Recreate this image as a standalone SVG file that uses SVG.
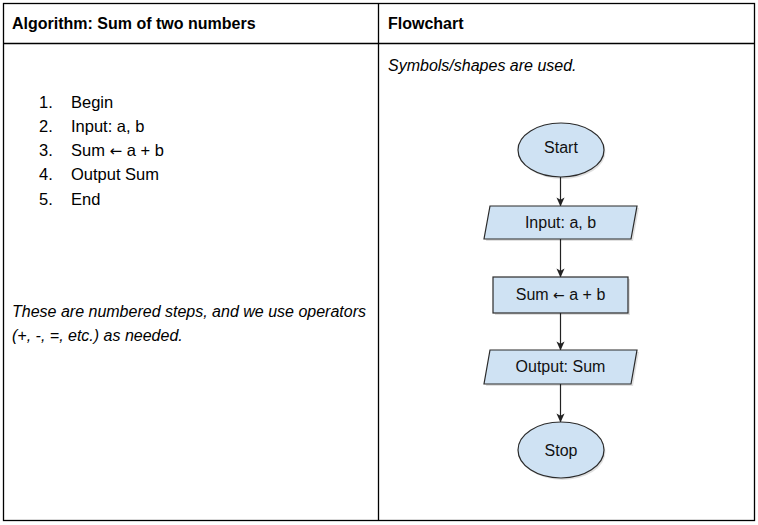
<svg xmlns="http://www.w3.org/2000/svg" width="758" height="525" viewBox="0 0 758 525">
<style>
.grid{stroke:#000;stroke-width:1.3;fill:none}
.hdr{font-family:"Liberation Sans",Arial,sans-serif;font-weight:bold;font-size:16px;fill:#000}
.it{font-family:"Liberation Sans",Arial,sans-serif;font-style:italic;font-size:16px;fill:#000}
.lst{font-family:"Liberation Sans",Arial,sans-serif;font-size:16.5px;fill:#000}
.arr{font-family:"DejaVu Sans",sans-serif}
.shape{fill:#cfe2f3;stroke:#2b2b2b;stroke-width:1.2}
.shadow{fill:#000;opacity:0.12}
.lbl{font-family:"Liberation Sans",Arial,sans-serif;font-size:16px;fill:#111;text-anchor:middle}
.conn{stroke:#222;stroke-width:1.2;fill:none;marker-end:url(#ah)}
</style>
<defs>
<marker id="ah" viewBox="0 0 10 10" refX="9.5" refY="5" markerWidth="9" markerHeight="9" markerUnits="userSpaceOnUse" orient="auto">
<path d="M0,0.5 L10,5 L0,9.5 L2.5,5 z" fill="#222"/>
</marker>
</defs>
<rect width="758" height="525" fill="#fff"/>
<g id="table">
<rect class="grid" x="3.5" y="3.5" width="751" height="517"/>
<line class="grid" x1="3.5" y1="43.5" x2="754.5" y2="43.5"/>
<line class="grid" x1="378.5" y1="3.5" x2="378.5" y2="520.5"/>
</g>
<g id="headers">
<text class="hdr" x="12" y="29">Algorithm: Sum of two numbers</text>
<text class="hdr" x="388" y="29">Flowchart</text>
</g>
<g id="algorithm">
<text class="lst" x="39" y="108">1.</text><text class="lst" x="71" y="108">Begin</text>
<text class="lst" x="39" y="132">2.</text><text class="lst" x="71" y="132">Input: a, b</text>
<text class="lst" x="39" y="156">3.</text><text class="lst" x="71" y="156">Sum <tspan class="arr" font-size="15">←</tspan> a + b</text>
<text class="lst" x="39" y="180">4.</text><text class="lst" x="71" y="180">Output Sum</text>
<text class="lst" x="39" y="205">5.</text><text class="lst" x="71" y="205">End</text>
<text class="it" x="12" y="317">These are numbered steps, and we use operators</text>
<text class="it" x="12" y="341">(+, -, =, etc.) as needed.</text>
</g>
<text class="it" x="388" y="71">Symbols/shapes are used.</text>
<g id="connectors">
<line class="conn" x1="560.5" y1="177" x2="560.5" y2="206"/>
<line class="conn" x1="560.5" y1="239" x2="560.5" y2="277"/>
<line class="conn" x1="560.5" y1="313" x2="560.5" y2="350"/>
<line class="conn" x1="560.5" y1="384" x2="560.5" y2="422"/>
</g>
<g id="start">
<ellipse class="shadow" cx="562.5" cy="152" rx="43" ry="27"/>
<ellipse class="shape" cx="561" cy="150" rx="43" ry="27"/>
<text class="lbl" x="561" y="153">Start</text>
</g>
<g id="input">
<polygon class="shadow" points="492,208 639,208 633,241 486,241"/>
<polygon class="shape" points="490,206 637,206 631,239 484,239"/>
<text class="lbl" x="560.5" y="228">Input: a, b</text>
</g>
<g id="process">
<rect class="shadow" x="495" y="279" width="135" height="36"/>
<rect class="shape" x="493" y="277" width="135" height="36"/>
<text class="lbl" x="560.5" y="300">Sum <tspan class="arr" font-size="14">←</tspan> a + b</text>
</g>
<g id="output">
<polygon class="shadow" points="492,352 639,352 633,386 486,386"/>
<polygon class="shape" points="490,350 637,350 631,384 484,384"/>
<text class="lbl" x="560.5" y="372">Output: Sum</text>
</g>
<g id="stop">
<ellipse class="shadow" cx="562.5" cy="452" rx="43" ry="28"/>
<ellipse class="shape" cx="561" cy="450" rx="43" ry="28"/>
<text class="lbl" x="561" y="456">Stop</text>
</g>
</svg>
